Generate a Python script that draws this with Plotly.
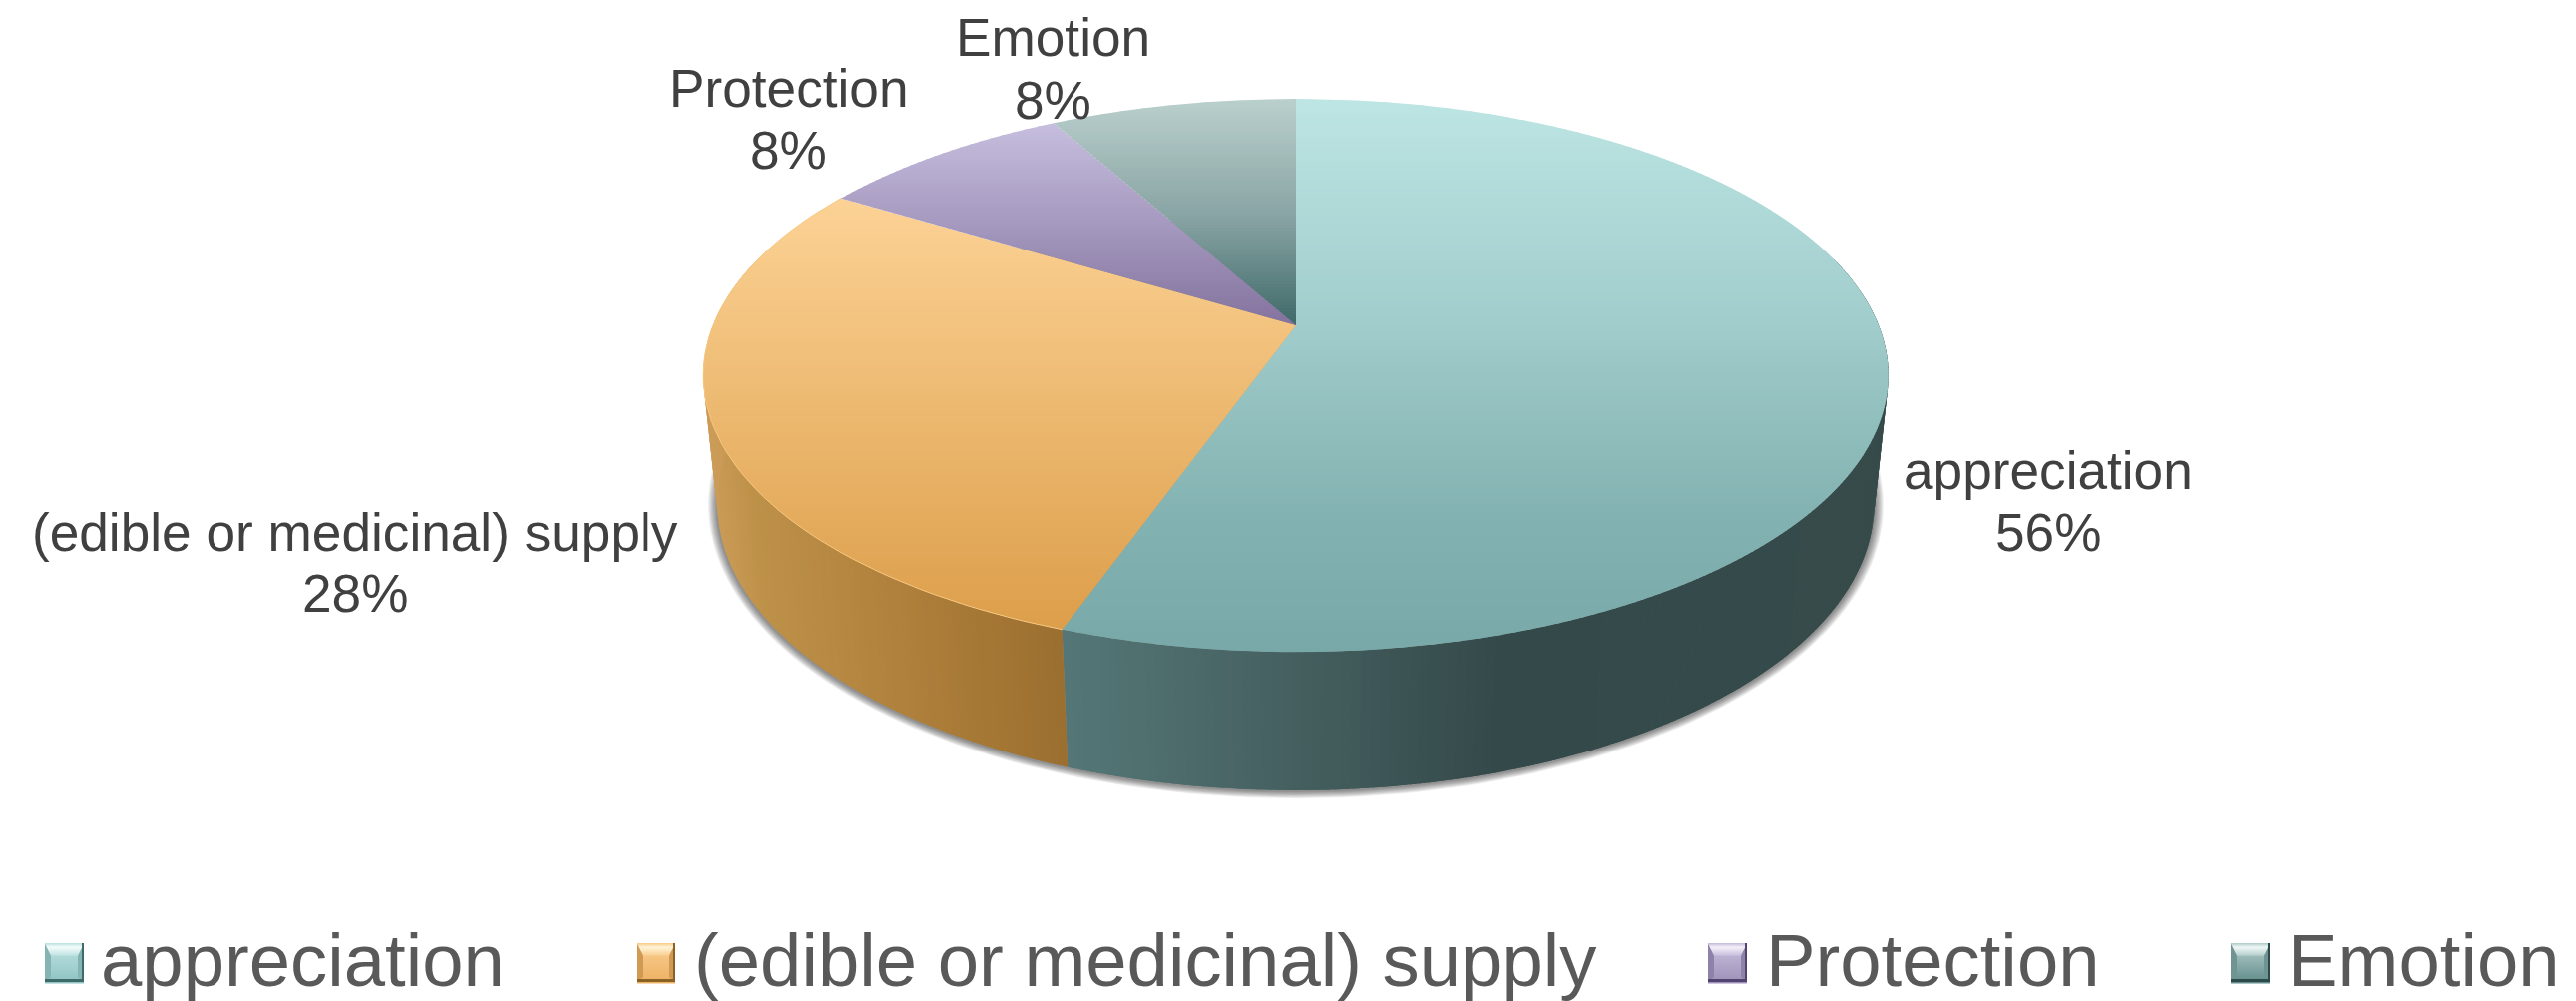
import numpy as np
import plotly.graph_objects as go

# ---- data ----
categories = ["appreciation", "(edible or medicinal) supply", "Protection", "Emotion"]
slice_shares = [55.4, 28.3, 8.3, 8.0]      # drawn share of the circle
slice_labels = ["56%", "28%", "8%", "8%"]  # printed labels

# ---- styling ----
W, H = 2582, 1003
top_stops = [
    [(0, "#BCE5E3"), (.4, "#A1CDCC"), (.75, "#82B2B1"), (1, "#78A9A8")],
    [(0, "#FCD295"), (1, "#DC9E4A")],
    [(0, "#C6BEDE"), (1, "#83729E")],
    [(0, "#B9CFCC"), (.5, "#8AA5A5"), (1, "#3F6868")],
]
wall_stops = {
    0: [(1065, "#557777"), (1300, "#455F5F"), (1500, "#34494A"), (1900, "#364B4A")],
    1: [(700, "#CF9F5C"), (760, "#BE9149"), (900, "#B0813C"), (1071, "#9A6E2F")],
}
rim_colors = {1: "#F8C880"}
# highlight, upper body, lower body, side edge, dark edge
swatch_colors = [("#F4FCFB", "#BFE3E2", "#8EC2C3", "#86B4B5", "#3E6A6A"),
                 ("#FFF3D6", "#F9CF90", "#EDB064", "#D09A55", "#8A6226"),
                 ("#F3F0F8", "#C8C0DD", "#9D90B8", "#8E82AA", "#51456F"),
                 ("#EFF7F6", "#B5D0CD", "#5F8A89", "#6F9493", "#2C4A4A")]
legend_swatch_x = [45, 638, 1712, 2236]
legend_text_x = [101, 696, 1770, 2293]
label_pos = [(2053, 471, 533), (356, 533, 594), (790, 88, 150), (1055, 37, 100)]

# projective mapping of the two discs (top rim, bottom rim)
CX, K = 1299, 0.181
TOP = dict(a=584.0, b=268.0, y0=326.0)
BOT = dict(a=570.0, b=277.6, y0=453.0)


def project(theta, d):
    u, v = np.sin(theta), np.cos(theta)
    w = 1 + K * v
    return CX + d["a"] * u / w, d["y0"] - d["b"] * v / w


def hex2rgb(c):
    return np.array([int(c[i:i + 2], 16) for i in (1, 3, 5)], float)


def ramp(stops, t):
    pos = [s[0] for s in stops]
    cols = np.array([hex2rgb(s[1]) for s in stops])
    r = [np.interp(t, pos, cols[:, i]) for i in range(3)]
    return "rgb(%d,%d,%d)" % tuple(round(x) for x in r)


fig = go.Figure()


def poly(xs, ys, color):
    fig.add_trace(go.Scatter(x=list(xs), y=list(ys), mode="lines", fill="toself",
                             fillcolor=color, line=dict(width=0), hoverinfo="skip",
                             showlegend=False))


def clip_band(xs, ys, y1, y2):
    def clip(pts, inside, cross):
        out = []
        for i in range(len(pts)):
            p, q = pts[i], pts[(i + 1) % len(pts)]
            if inside(p):
                out.append(p)
                if not inside(q):
                    out.append(cross(p, q))
            elif inside(q):
                out.append(cross(p, q))
        return out

    def at(yc):
        return lambda p, q: (p[0] + (q[0] - p[0]) * (yc - p[1]) / (q[1] - p[1]), yc)

    pts = list(zip(xs, ys))
    pts = clip(pts, lambda p: p[1] >= y1, at(y1))
    if pts:
        pts = clip(pts, lambda p: p[1] <= y2, at(y2))
    return pts


# soft shadow under the bottom rim
th = np.linspace(0, 2 * np.pi, 240)
for e in range(9, 0, -1):
    poly(CX + (580 + e) * np.sin(th), 506 + (287 + e * 0.8) * np.cos(th), "rgba(0,0,0,0.06)")

# slice boundaries from the shares
cum = np.cumsum([0] + slice_shares) / sum(slice_shares) * 2 * np.pi

# side walls
for i, (a0, a1) in enumerate(zip(cum[:-1], cum[1:])):
    if i not in wall_stops:
        continue
    lo, hi = max(a0, np.radians(75)), min(a1, np.radians(285))
    n = int((hi - lo) / np.radians(0.8)) + 1
    ang = np.linspace(lo, hi, n + 1)
    for j in range(n):
        tx0, ty0 = project(ang[j], TOP)
        tx1, ty1 = project(ang[j + 1], TOP)
        bx0, by0 = project(ang[j], BOT)
        bx1, by1 = project(ang[j + 1], BOT)
        pad = 0.012 if j < n - 1 else 0
        tx2, ty2 = project(ang[j + 1] + pad, TOP)
        bx2, by2 = project(ang[j + 1] + pad, BOT)
        poly([tx0, tx2, bx2, bx0], [ty0, ty2, by2, by0],
             ramp(wall_stops[i], (tx0 + bx0 + tx1 + bx1) / 4))

# top faces: horizontal colour bands clipped to each slice
STEP = 3
for i, (a0, a1) in enumerate(zip(cum[:-1], cum[1:])):
    ang = np.linspace(a0, a1, max(12, int((a1 - a0) / np.radians(1.5))))
    ax, ay = project(ang, TOP)
    xs = np.r_[CX, ax]
    ys = np.r_[TOP["y0"], ay]
    ymin, ymax = ys.min(), ys.max()
    y = ymin
    while y < ymax:
        pts = clip_band(xs, ys, y, min(y + STEP + 0.8, ymax))
        if len(pts) >= 3:
            poly([p[0] for p in pts], [p[1] for p in pts],
                 ramp(top_stops[i], (y - ymin) / (ymax - ymin)))
        y += STEP
    if i in rim_colors:
        fig.add_trace(go.Scatter(x=ax, y=ay, mode="lines", hoverinfo="skip", showlegend=False,
                                 line=dict(color=rim_colors[i], width=1)))

# legend swatches (bevelled)
for sx, (hi_c, up_c, lo_c, side_c, dark_c) in zip(legend_swatch_x, swatch_colors):
    sy, sw, sh = 945, 39, 39
    for yy in range(0, sh, 2):
        poly([sx, sx + sw, sx + sw, sx], [sy + yy, sy + yy, sy + yy + 2.6, sy + yy + 2.6],
             ramp([(0, up_c), (1, lo_c)], yy / sh))
    poly([sx, sx + 6, sx + 6, sx], [sy, sy + 12, sy + sh - 5, sy + sh], side_c)
    poly([sx + sw, sx + sw - 6, sx + sw - 6, sx + sw], [sy, sy + 12, sy + sh - 5, sy + sh], side_c)
    for yy in range(0, 12):
        ins = yy / 2
        poly([sx + ins, sx + sw - ins, sx + sw - ins - 0.5, sx + ins + 0.5],
             [sy + yy, sy + yy, sy + yy + 1.4, sy + yy + 1.4],
             ramp([(0, up_c), (.3, hi_c), (1, up_c)], yy / 12))
    poly([sx + sw - 2, sx + sw, sx + sw, sx + sw - 2], [sy, sy, sy + sh, sy + sh], dark_c)
    poly([sx, sx + sw, sx + sw, sx], [sy + sh - 3, sy + sh - 3, sy + sh, sy + sh], dark_c)

# text
annotations = []
for name, lab, (lx, y1, y2) in zip(categories, slice_labels, label_pos):
    for txt, yy in ((name, y1), (lab, y2)):
        annotations.append(dict(x=lx, y=yy, text=txt, xref="x", yref="y", showarrow=False,
                                xanchor="center", yanchor="middle",
                                font=dict(family="Liberation Sans", size=53.2, color="#404040")))
for name, tx in zip(categories, legend_text_x):
    annotations.append(dict(x=tx, y=962, text=name, xref="x", yref="y", showarrow=False,
                            xanchor="left", yanchor="middle", xshift=-2,
                            font=dict(family="Liberation Sans", size=74.3, color="#595959")))

fig.update_layout(
    width=W, height=H, margin=dict(l=0, r=0, t=0, b=0),
    paper_bgcolor="white", plot_bgcolor="white", showlegend=False,
    xaxis=dict(range=[0, W], visible=False, fixedrange=True),
    yaxis=dict(range=[H, 0], visible=False, fixedrange=True),
    annotations=annotations,
)
fig.write_html("out.html", config=dict(displayModeBar=False),
               post_script="document.body.style.margin='0';document.body.style.overflow='hidden';")
